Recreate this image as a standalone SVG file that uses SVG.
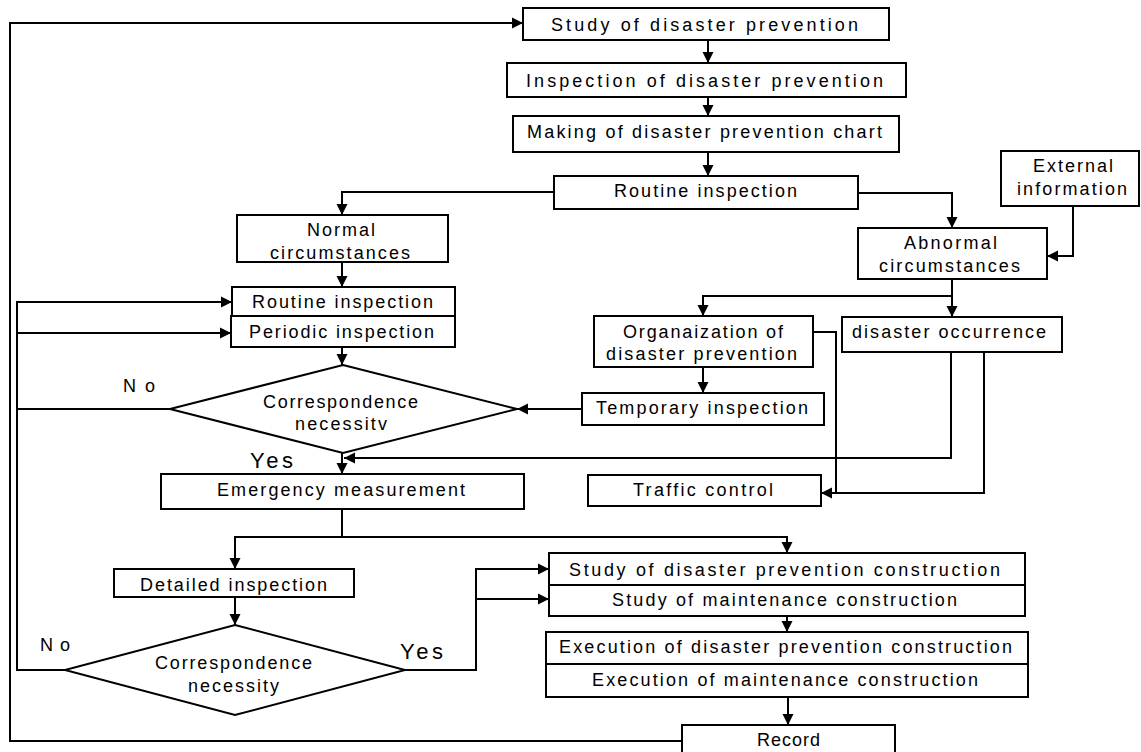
<svg xmlns="http://www.w3.org/2000/svg" width="1141" height="752" viewBox="0 0 1141 752">
<defs>
<marker id="ah" markerUnits="userSpaceOnUse" markerWidth="12" markerHeight="12" refX="11" refY="6" orient="auto">
<path d="M0,0.5 L11,6 L0,11.5 z" fill="#000"/>
</marker>
<style>
.box{fill:#fff;stroke:#000;stroke-width:2}
.ln{fill:none;stroke:#000;stroke-width:2}
.ar{fill:none;stroke:#000;stroke-width:2;marker-end:url(#ah)}
text{font-family:"Liberation Sans",Arial,sans-serif;font-size:18px;fill:#000}
.big{font-size:22px}
</style>
</defs>
<rect width="1141" height="752" fill="#fff"/>
<g id="connectors">
<polyline class="ar" points="682,741 10,741 10,23 523,23"/>
<line class="ar" x1="708" y1="40" x2="708" y2="63"/>
<line class="ar" x1="708" y1="97" x2="708" y2="116"/>
<line class="ar" x1="708" y1="152" x2="708" y2="176"/>
<polyline class="ar" points="554,192 342,192 342,215"/>
<polyline class="ar" points="858,193 952,193 952,228"/>
<polyline class="ar" points="1073,206 1073,256 1047,256"/>
<line class="ar" x1="952" y1="279" x2="952" y2="317"/>
<polyline class="ar" points="952,296 703,296 703,316"/>
<line class="ar" x1="342" y1="262" x2="342" y2="287"/>
<line class="ar" x1="342" y1="347" x2="342" y2="365"/>
<line class="ar" x1="703" y1="367" x2="703" y2="393"/>
<line class="ar" x1="582" y1="409" x2="517" y2="409"/>
<polyline class="ln" points="170,409 17,409"/>
<polyline class="ar" points="65,670 17,670 17,302 232,302"/>
<line class="ar" x1="17" y1="333" x2="231" y2="333"/>
<line class="ar" x1="342" y1="453" x2="342" y2="474"/>
<polyline class="ar" points="951,352 951,458 344,458"/>
<polyline class="ar" points="813,332 836,332 836,493 821,493"/>
<polyline class="ln" points="984,352 984,493 836,493"/>
<line class="ln" x1="342" y1="509" x2="342" y2="537"/>
<polyline class="ar" points="342,537 235,537 235,569"/>
<polyline class="ar" points="342,537 787,537 787,553"/>
<line class="ar" x1="235" y1="597" x2="235" y2="625"/>
<polyline class="ar" points="405,670 476,670 476,569 549,569"/>
<line class="ar" x1="476" y1="599" x2="549" y2="599"/>
<line class="ar" x1="787" y1="616" x2="787" y2="632"/>
<line class="ar" x1="788" y1="697" x2="788" y2="725"/>
</g>
<g id="study">
<rect class="box" x="523" y="8" width="366" height="32"/>
<text x="551" y="31" textLength="307" lengthAdjust="spacing">Study of disaster prevention</text>
</g>
<g id="inspection">
<rect class="box" x="507" y="63" width="399" height="34"/>
<text x="526" y="87" textLength="357" lengthAdjust="spacing">Inspection of disaster prevention</text>
</g>
<g id="making">
<rect class="box" x="513" y="116" width="386" height="36"/>
<text x="527" y="138" textLength="355" lengthAdjust="spacing">Making of disaster prevention chart</text>
</g>
<g id="routine-top">
<rect class="box" x="554" y="176" width="304" height="33"/>
<text x="614" y="197" textLength="183" lengthAdjust="spacing">Routine inspection</text>
</g>
<g id="external">
<rect class="box" x="1001" y="151" width="138" height="55"/>
<text x="1033" y="172" textLength="80" lengthAdjust="spacing">External</text>
<text x="1017" y="195" textLength="110" lengthAdjust="spacing">information</text>
</g>
<g id="abnormal">
<rect class="box" x="858" y="228" width="189" height="51"/>
<text x="904" y="249" textLength="93" lengthAdjust="spacing">Abnormal</text>
<text x="879" y="272" textLength="141" lengthAdjust="spacing">circumstances</text>
</g>
<g id="normal">
<rect class="box" x="237" y="215" width="211" height="47"/>
<text x="307" y="236" textLength="68" lengthAdjust="spacing">Normal</text>
<text x="270" y="259" textLength="140" lengthAdjust="spacing">circumstances</text>
</g>
<g id="routine-left">
<rect class="box" x="232" y="287" width="223" height="29"/>
<text x="252" y="308" textLength="181" lengthAdjust="spacing">Routine inspection</text>
</g>
<g id="periodic">
<rect class="box" x="231" y="316" width="224" height="31"/>
<text x="249" y="338" textLength="185" lengthAdjust="spacing">Periodic inspection</text>
</g>
<g id="organization">
<rect class="box" x="594" y="316" width="219" height="51"/>
<text x="623" y="338" textLength="160" lengthAdjust="spacing">Organaization of</text>
<text x="606" y="360" textLength="191" lengthAdjust="spacing">disaster prevention</text>
</g>
<g id="disaster">
<rect class="box" x="842" y="317" width="220" height="35"/>
<text x="852" y="338" textLength="194" lengthAdjust="spacing">disaster occurrence</text>
</g>
<g id="temporary">
<rect class="box" x="582" y="393" width="242" height="32"/>
<text x="596" y="414" textLength="212" lengthAdjust="spacing">Temporary inspection</text>
</g>
<g id="decision1">
<polygon class="box" points="343,365 517,409 343,453 170,409"/>
<text x="263" y="408" textLength="155" lengthAdjust="spacing">Correspondence</text>
<text x="295" y="430" textLength="92" lengthAdjust="spacing">necessitv</text>
<text x="123" y="392" textLength="32" lengthAdjust="spacing">No</text>
<text class="big" x="250" y="468" textLength="43" lengthAdjust="spacing">Yes</text>
</g>
<g id="emergency">
<rect class="box" x="161" y="474" width="363" height="35"/>
<text x="217" y="496" textLength="248" lengthAdjust="spacing">Emergency measurement</text>
</g>
<g id="traffic">
<rect class="box" x="588" y="475" width="233" height="31"/>
<text x="633" y="496" textLength="140" lengthAdjust="spacing">Traffic control</text>
</g>
<g id="detailed">
<rect class="box" x="114" y="569" width="240" height="28"/>
<text x="140" y="591" textLength="187" lengthAdjust="spacing">Detailed inspection</text>
</g>
<g id="decision2">
<polygon class="box" points="235,625 405,670 235,715 65,670"/>
<text x="155" y="669" textLength="157" lengthAdjust="spacing">Correspondence</text>
<text x="188" y="692" textLength="91" lengthAdjust="spacing">necessity</text>
<text x="40" y="651" textLength="30" lengthAdjust="spacing">No</text>
<text class="big" x="400" y="659" textLength="43" lengthAdjust="spacing">Yes</text>
</g>
<g id="study-construction">
<rect class="box" x="549" y="553" width="476" height="32"/>
<text x="569" y="576" textLength="431" lengthAdjust="spacing">Study of disaster prevention construction</text>
</g>
<g id="study-maintenance">
<rect class="box" x="549" y="585" width="476" height="31"/>
<text x="612" y="606" textLength="345" lengthAdjust="spacing">Study of maintenance construction</text>
</g>
<g id="exec-construction">
<rect class="box" x="546" y="632" width="482" height="32"/>
<text x="559" y="653" textLength="453" lengthAdjust="spacing">Execution of disaster prevention construction</text>
</g>
<g id="exec-maintenance">
<rect class="box" x="546" y="664" width="482" height="33"/>
<text x="592" y="686" textLength="386" lengthAdjust="spacing">Execution of maintenance construction</text>
</g>
<g id="record">
<rect class="box" x="682" y="725" width="213" height="40"/>
<text x="757" y="746" textLength="63" lengthAdjust="spacing">Record</text>
</g>
</svg>
